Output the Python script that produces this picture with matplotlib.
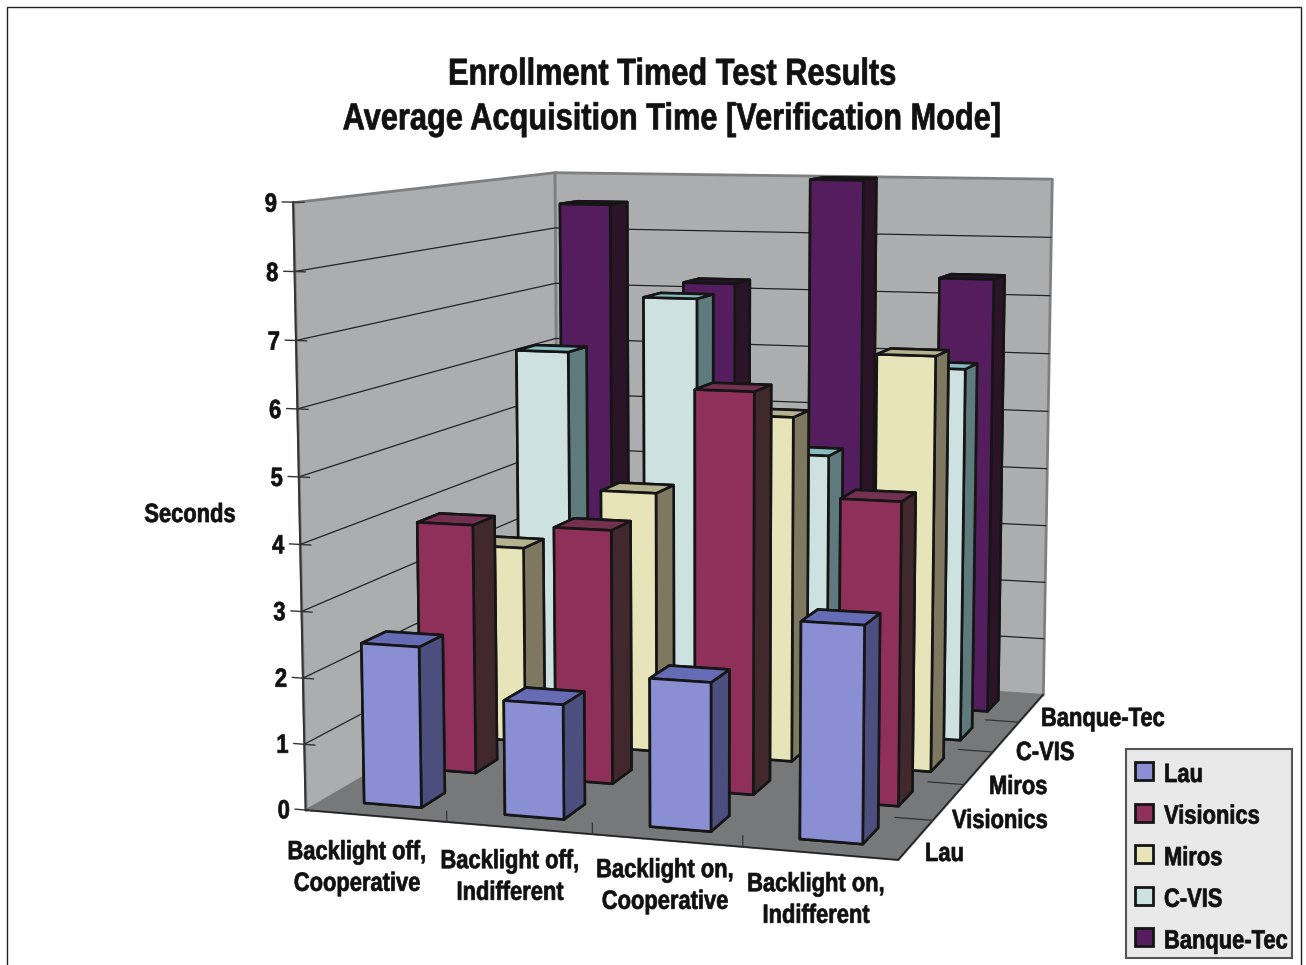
import matplotlib
matplotlib.use('Agg')
import matplotlib.pyplot as plt
from matplotlib.patches import Rectangle
from matplotlib.patheffects import AbstractPathEffect
from matplotlib.transforms import Affine2D
from mpl_toolkits.mplot3d.art3d import Poly3DCollection

categories = ['Backlight off,\nCooperative', 'Backlight off,\nIndifferent',
              'Backlight on,\nCooperative', 'Backlight on,\nIndifferent']
series_names = ['Lau', 'Visionics', 'Miros', 'C-VIS', 'Banque-Tec']
lau = [2.44, 1.72, 2.2, 3.17]
visionics = [3.92, 3.95, 6.15, 4.6]
miros = [3.2, 4.2, 5.5, 6.53]
cvis = [6.17, 7.12, 4.6, 6.1]
banque = [8.52, 7.2, 9.0, 7.38]
all_values = [lau, visionics, miros, cvis, banque]

# (top, front, side)
face_colors = [('#666bb5', '#8a8fd3', '#4c4e7e'),
               ('#74304f', '#8e3059', '#41282d'),
               ('#b5b28f', '#e8e4ba', '#7d785f'),
               ('#86bcc0', '#cde1e1', '#5f7a7c'),
               ('#2a1230', '#541d5e', '#2c1428')]
legend_colors = ['#8a8fd3', '#8e3059', '#e8e4ba', '#cde1e1', '#541d5e']


class Narrow(AbstractPathEffect):
    # squeezes each text line sideways and thickens it, no condensed bold font is installed
    def __init__(self, sx=0.83, left=False):
        super().__init__()
        self.sx = sx
        self.left = left

    def draw_path(self, renderer, gc, tpath, affine, rgbFace=None):
        box = tpath.get_extents()
        cx = 0 if self.left else box.x0 + box.width / 2
        squeeze = Affine2D().translate(-cx, 0).scale(self.sx, 1).translate(cx, 0)
        gc0 = renderer.new_gc()
        gc0.copy_properties(gc)
        gc0.set_linewidth(0.5)
        gc0.set_foreground(rgbFace)
        renderer.draw_path(gc0, tpath, squeeze + affine, rgbFace)
        gc0.restore()


plt.rcParams['font.family'] = ['Liberation Sans', 'DejaVu Sans']
plt.rcParams['font.weight'] = 'bold'
text_color = '#111111'
W, H = 1306, 965

fig = plt.figure(figsize=(13.06, 9.65), dpi=100)
ax = fig.add_axes([(704 - 495) / W, -3 / H, H / W, 1.0], projection='3d', computed_zorder=False)
ax.set_box_aspect((1.083, 1.31, 1.08), zoom=1.058)
ax.view_init(elev=8.3, azim=-72.8)
ax.set_proj_type('persp', focal_length=0.553)
ax.set_xlim(0, 4)
ax.set_ylim(0, 5)
ax.set_zlim(0, 9)
ax.set_axis_off()

# walls and floor
wall = '#abadaf'
edge = '#7d7f81'
ax.add_collection3d(Poly3DCollection([[(0, 0, 0), (0, 5, 0), (0, 5, 9), (0, 0, 9)]],
                                     facecolor=wall, edgecolor=edge, linewidth=2, zorder=1))
ax.add_collection3d(Poly3DCollection([[(0, 5, 0), (4, 5, 0), (4, 5, 9), (0, 5, 9)]],
                                     facecolor=wall, edgecolor=edge, linewidth=2, zorder=1))
ax.add_collection3d(Poly3DCollection([[(0, 0, 0), (4, 0, 0), (4, 5, 0), (0, 5, 0)]],
                                     facecolor='#77787a', edgecolor='#77787a', linewidth=1, zorder=1))
ax.plot([0, 4, 4], [0, 0, 5], [0, 0, 0], color='#222222', lw=1.2, zorder=2)
ax.plot([0, 0], [0, 0], [0, 9], color='#333333', lw=1.4, zorder=2)
for v in range(1, 9):
    ax.plot([0, 0, 4], [0, 5, 5], [v, v, v], color='#222222', lw=0.9, zorder=2)
for v in range(0, 10):
    ax.plot([-0.075, 0.075], [0, 0], [v, v], color='#333333', lw=1.0, zorder=2)
    ax.text(-0.105, 0, v - 0.04, str(v), fontsize=19, ha='right', va='center', color=text_color, zorder=3,
            path_effects=[Narrow()])
for i in range(1, 4):
    ax.plot([i, i], [0, 0], [0, 0.16], color='#333333', lw=0.9, zorder=2)
for j in range(1, 5):
    ax.plot([3.75, 4], [j, j], [0, 0], color='#333333', lw=0.9, zorder=2)

# bars, back row first so the front ones cover them
bar_w = 0.41
bar_d = 0.42
z = 5
for j in range(4, -1, -1):
    for i in range(4):
        top, front, side = face_colors[j]
        ax.bar3d(i + 0.5 - bar_w / 2, j + 0.5 - bar_d / 2, 0, bar_w, bar_d, all_values[j][i],
                 color=[top, top, front, front, side, side], shade=False,
                 edgecolor='#151515', linewidth=1.9, zorder=z)
        z += 1

# depth labels
depth_pos = [(925, 854), (952, 821), (989, 787), (1016, 753), (1041, 719)]
for name, (px, py) in zip(series_names, depth_pos):
    fig.text(px / W, 1 - py / H, name, fontsize=19, ha='left', va='center', color=text_color,
             path_effects=[Narrow(left=True)])

cat_pos = [(357, 868), (510, 877), (665, 886), (816, 900)]
for name, (px, py) in zip(categories, cat_pos):
    fig.text(px / W, 1 - py / H, name, fontsize=19, ha='center', va='center', linespacing=1.4,
             color=text_color, path_effects=[Narrow()])

fig.text(672 / W, 1 - 97 / H, 'Enrollment Timed Test Results\nAverage Acquisition Time [Verification Mode]',
         fontsize=27, ha='center', va='center', linespacing=1.31, color=text_color,
         path_effects=[Narrow(0.82)])
fig.text(190 / W, 1 - 515 / H, 'Seconds', fontsize=19, ha='center', va='center', color=text_color,
         path_effects=[Narrow()])

# legend box, drawn by hand because the squeezed labels would throw off the automatic size
fig.add_artist(Rectangle((1126 / W, 1 - 958 / H), 166 / W, 209 / H, transform=fig.transFigure,
                         facecolor='#e9e9e9', edgecolor='#555555', linewidth=1.5))
for k, (c, n) in enumerate(zip(legend_colors, series_names)):
    row_y = 771 + 41.6 * k
    fig.add_artist(Rectangle((1135 / W, 1 - (row_y + 9) / H), 18 / W, 18 / H, transform=fig.transFigure,
                             facecolor=c, edgecolor='#151515', linewidth=2))
    fig.text(1164 / W, 1 - (row_y + 4) / H, n, fontsize=19, ha='left', va='center', color=text_color,
             path_effects=[Narrow(left=True)])

# outer frame
fig.add_artist(Rectangle((6.5 / W, -0.01), 1294 / W, 1 - 7 / H + 0.01, transform=fig.transFigure,
                         fill=False, edgecolor='#222222', linewidth=1))

fig.savefig('out.png', dpi=100)
